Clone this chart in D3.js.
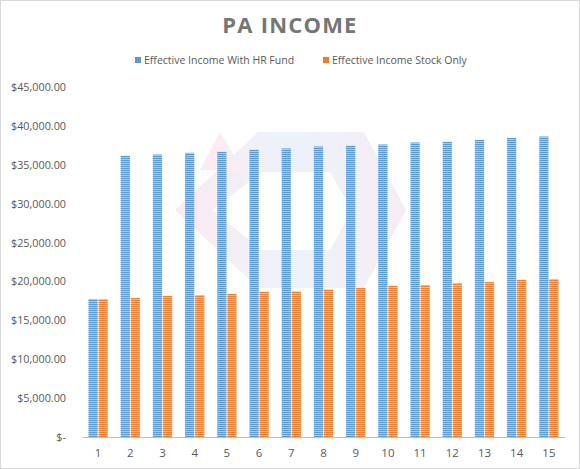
<!DOCTYPE html>
<html>
<head>
<meta charset="utf-8">
<script src="https://cdn.jsdelivr.net/npm/d3@7/dist/d3.min.js"></script>
<style>
  body { margin: 0; background: #fff; }
  svg { display: block; font-family: "Open Sans", "DejaVu Sans", sans-serif; }
</style>
</head>
<body>
<div id="chart"></div>
<script>
// data
var years = ["1","2","3","4","5","6","7","8","9","10","11","12","13","14","15"];
var withHR = [17740, 36160, 36320, 36540, 36670, 36930, 37100, 37350, 37440, 37610, 37870, 37960, 38210, 38470, 38640];
var stockOnly = [17740, 17870, 18160, 18250, 18420, 18680, 18720, 18970, 19150, 19450, 19540, 19800, 19920, 20220, 20310];
var seriesNames = ["Effective Income With HR Fund", "Effective Income Stock Only"];
var yTicks = [0, 5000, 10000, 15000, 20000, 25000, 30000, 35000, 40000, 45000];

var w = 580, h = 469;
var margin = {left: 82, right: 15, top: 87, bottom: 32};

var svg = d3.select("#chart").append("svg")
  .attr("width", w).attr("height", h);

// striped fills like the excel pattern
var defs = svg.append("defs");
function stripes(id, light, dark) {
  var p = defs.append("pattern").attr("id", id)
    .attr("patternUnits", "userSpaceOnUse")
    .attr("width", 4).attr("height", 2);
  p.append("rect").attr("width", 4).attr("height", 2).attr("fill", light);
  p.append("rect").attr("width", 4).attr("height", 1).attr("fill", dark);
}
stripes("blueStripe", "#a9c9ea", "#5b9bd5");
stripes("orangeStripe", "#f6bb92", "#ed7d31");

var grad = defs.append("linearGradient").attr("id", "wm")
  .attr("x1", 0).attr("x2", 1).attr("y1", 0).attr("y2", 0);
grad.append("stop").attr("offset", "0%").attr("stop-color", "#fbe3ee");
grad.append("stop").attr("offset", "50%").attr("stop-color", "#e6eef9");
grad.append("stop").attr("offset", "100%").attr("stop-color", "#f3e6f1");

svg.append("rect")
  .attr("x", 0.5).attr("y", 0.5)
  .attr("width", w - 1).attr("height", h - 1)
  .attr("fill", "#fff").attr("stroke", "#d9d9d9");

// faint watermark logo behind the plot
var wmark = svg.append("g").attr("opacity", 0.75);
wmark.append("polygon")
  .attr("points", "258,132 364,132 406,210 364,288 258,288 175,210")
  .attr("fill", "url(#wm)");
wmark.append("polygon")
  .attr("points", "262,172 330,172 352,210 330,250 262,250 212,210")
  .attr("fill", "#fff");
wmark.append("polygon")
  .attr("points", "220,132 243,170 200,170")
  .attr("fill", "#fde6ef");

var x = d3.scaleBand()
  .domain(years)
  .range([margin.left, w - margin.right]);

var y = d3.scaleLinear()
  .domain([0, 45000])
  .range([h - margin.bottom, margin.top]);

var inner = d3.scaleBand()
  .domain([0, 1])
  .range([0, x.bandwidth() * 0.6])
  .paddingInner(0.08);

var offset = (x.bandwidth() - x.bandwidth() * 0.6) / 2;

// title
svg.append("text")
  .attr("x", w / 2).attr("y", 33)
  .attr("text-anchor", "middle")
  .attr("font-size", 22).attr("font-weight", "bold")
  .attr("letter-spacing", 1.2)
  .attr("fill", "#767676")
  .text("PA INCOME");

// legend
var legend = [
  {name: seriesNames[0], color: "#5b9bd5", x: 135},
  {name: seriesNames[1], color: "#ed7d31", x: 323}
];
var lg = svg.selectAll("g.legend").data(legend).enter()
  .append("g").attr("class", "legend")
  .attr("transform", function(d) { return "translate(" + d.x + ",60)"; });
lg.append("rect").attr("x", 0).attr("y", -3)
  .attr("width", 6).attr("height", 6)
  .attr("fill", function(d) { return d.color; });
lg.append("text").attr("x", 9).attr("y", 0)
  .attr("dy", "0.35em")
  .attr("font-size", 10.5).attr("fill", "#595959")
  .text(function(d) { return d.name; });

// y axis labels
var yAxis = d3.axisLeft(y)
  .tickValues(yTicks)
  .tickSize(0)
  .tickPadding(16)
  .tickFormat(function(d) {
    return d == 0 ? "$-" : "$" + d3.format(",.2f")(d);
  });
var ya = svg.append("g")
  .attr("transform", "translate(" + margin.left + ",0)")
  .call(yAxis);
ya.select(".domain").remove();
ya.selectAll("text").attr("font-size", 10.8).attr("fill", "#595959")
  .attr("font-family", "Open Sans, sans-serif");

// bars
var groups = svg.selectAll("g.year")
  .data(years)
  .enter().append("g").attr("class", "year")
  .attr("transform", function(d) { return "translate(" + (x(d) + offset) + ",0)"; });

groups.append("rect")
  .attr("x", inner(0))
  .attr("width", inner.bandwidth())
  .attr("y", function(d, i) { return y(withHR[i]); })
  .attr("height", function(d, i) { return y(0) - y(withHR[i]); })
  .attr("fill", "url(#blueStripe)");

groups.append("rect")
  .attr("x", inner(1))
  .attr("width", inner.bandwidth())
  .attr("y", function(d, i) { return y(stockOnly[i]); })
  .attr("height", function(d, i) { return y(0) - y(stockOnly[i]); })
  .attr("fill", "url(#orangeStripe)");

// x axis
var xAxis = d3.axisBottom(x).tickSize(0).tickPadding(12);
var xa = svg.append("g")
  .attr("transform", "translate(0," + y(0) + ")")
  .call(xAxis);
xa.select(".domain").attr("stroke", "#bfbfbf").attr("stroke-width", 1.2);
xa.selectAll("text").attr("font-size", 11.5).attr("fill", "#595959")
  .attr("font-family", "Open Sans, sans-serif");
</script>
</body>
</html>
